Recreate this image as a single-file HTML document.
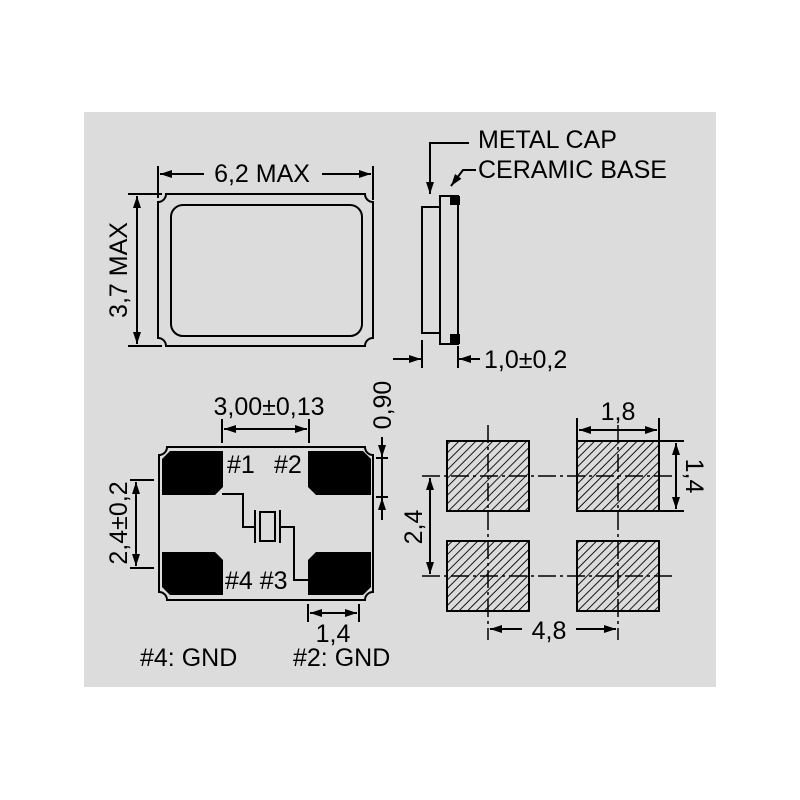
<!DOCTYPE html>
<html><head><meta charset="utf-8"><style>
html,body{margin:0;padding:0;background:#fff;}
svg{display:block;}
text{font-family:"Liberation Sans",sans-serif;font-size:25px;fill:#000;}
</style></head><body>
<svg width="800" height="800" viewBox="0 0 800 800" xmlns="http://www.w3.org/2000/svg">
<defs>
<marker id="a" viewBox="0 0 12 8" refX="12" refY="4" markerWidth="13" markerHeight="8" markerUnits="userSpaceOnUse" orient="auto-start-reverse">
<path d="M0,0 L12,4 L0,8 z" fill="#000"/></marker>
<pattern id="h" width="6" height="6" patternUnits="userSpaceOnUse" patternTransform="rotate(45)">
<rect width="6" height="6" fill="#dcdcdc"/><line x1="0" y1="0" x2="0" y2="6" stroke="#000" stroke-width="1.8"/></pattern>
</defs>
<rect x="84" y="112" width="632" height="575" fill="#dcdcdc"/>
<g stroke="#000" stroke-width="2" fill="none">
<!-- top package -->
<path d="M166,194 H365 A8,8 0 0 0 373,202 V338 A8,8 0 0 0 365,346 H166 A8,8 0 0 0 158,338 V202 A8,8 0 0 0 166,194 Z"/>
<rect x="171" y="205" width="191" height="131" rx="12"/>
<line x1="158" y1="166" x2="158" y2="198"/><line x1="373" y1="166" x2="373" y2="200"/>
<line x1="160" y1="174" x2="204" y2="174" marker-start="url(#a)"/>
<line x1="322" y1="174" x2="371" y2="174" marker-end="url(#a)"/>
<line x1="128" y1="194" x2="162" y2="194"/><line x1="128" y1="346" x2="162" y2="346"/>
<line x1="137" y1="196" x2="137" y2="344" marker-start="url(#a)" marker-end="url(#a)"/>
<!-- side view -->
<rect x="422" y="207" width="18" height="126"/>
<rect x="440" y="196" width="18" height="148"/>
<polyline points="469,143 430,143 430,194" marker-end="url(#a)"/>
<polyline points="476,170 463,170 451,186" marker-end="url(#a)"/>
<line x1="422" y1="340" x2="422" y2="368"/><line x1="458" y1="346" x2="458" y2="368"/>
<line x1="393" y1="359" x2="421" y2="359" marker-end="url(#a)"/>
<line x1="480" y1="359" x2="459" y2="359" marker-end="url(#a)"/>
<!-- bottom view -->
<path d="M167,447 H365 A8,8 0 0 0 373,455 V592 A8,8 0 0 0 365,600 H167 A8,8 0 0 0 159,592 V455 A8,8 0 0 0 167,447 Z"/>
<polyline points="222,494 243,494 243,527 254,527"/>
<line x1="255" y1="510" x2="255" y2="543"/><line x1="280" y1="510" x2="280" y2="543"/>
<rect x="260" y="512" width="15" height="29"/>
<polyline points="281,527 294,527 294,580 308,580"/>
<line x1="222" y1="419" x2="222" y2="443"/><line x1="309" y1="419" x2="309" y2="443"/>
<line x1="224" y1="429" x2="307" y2="429" marker-start="url(#a)" marker-end="url(#a)"/>
<line x1="376" y1="458" x2="388" y2="458"/><line x1="376" y1="497" x2="388" y2="497"/>
<line x1="382" y1="437" x2="382" y2="457" marker-end="url(#a)"/>
<line x1="382" y1="458" x2="382" y2="497"/>
<line x1="382" y1="520" x2="382" y2="498" marker-end="url(#a)"/>
<line x1="130" y1="480" x2="154" y2="480"/><line x1="130" y1="568" x2="154" y2="568"/>
<line x1="136" y1="482" x2="136" y2="566" marker-start="url(#a)" marker-end="url(#a)"/>
<line x1="308" y1="604" x2="308" y2="622"/><line x1="359" y1="604" x2="359" y2="622"/>
<line x1="310" y1="613" x2="357" y2="613" marker-start="url(#a)" marker-end="url(#a)"/>
</g>
<g fill="#000">
<path d="M170,451 H223 V487 L215,495 H162 V459 Z"/>
<path d="M308,451 H363 L371,459 V495 H316 L308,487 Z"/>
<path d="M162,552 H215 L223,560 V595 H170 L162,587 Z"/>
<path d="M316,552 H371 V587 L363,595 H308 V560 Z"/>
<rect x="450" y="196" width="10" height="9"/><rect x="450" y="334" width="10" height="10"/>
</g>
<!-- land pattern -->
<g stroke="#000" stroke-width="2">
<rect x="447" y="441" width="82" height="70" fill="url(#h)"/>
<rect x="577" y="441" width="82" height="70" fill="url(#h)"/>
<rect x="447" y="541" width="82" height="70" fill="url(#h)"/>
<rect x="577" y="541" width="82" height="70" fill="url(#h)"/>
</g>
<g stroke="#000" stroke-width="1.5" fill="none" stroke-dasharray="18,4,3,4">
<line x1="488" y1="425" x2="488" y2="640"/><line x1="618" y1="425" x2="618" y2="640"/>
<line x1="422" y1="476" x2="676" y2="476"/><line x1="422" y1="576" x2="676" y2="576"/>
</g>
<g stroke="#000" stroke-width="2" fill="none">
<line x1="577" y1="418" x2="577" y2="441"/><line x1="659" y1="418" x2="659" y2="441"/>
<line x1="579" y1="430" x2="657" y2="430" marker-start="url(#a)" marker-end="url(#a)"/>
<line x1="659" y1="441" x2="684" y2="441"/><line x1="659" y1="511" x2="684" y2="511"/>
<line x1="676" y1="443" x2="676" y2="509" marker-start="url(#a)" marker-end="url(#a)"/>
<line x1="430" y1="478" x2="430" y2="574" marker-start="url(#a)" marker-end="url(#a)"/>
<line x1="490" y1="629" x2="522" y2="629" marker-start="url(#a)"/>
<line x1="576" y1="629" x2="616" y2="629" marker-end="url(#a)"/>
</g>
<text x="262" y="182" text-anchor="middle">6,2 MAX</text>
<text transform="translate(127,270) rotate(-90)" text-anchor="middle">3,7 MAX</text>
<text x="478" y="148">METAL CAP</text>
<text x="478" y="178">CERAMIC BASE</text>
<text x="484" y="368">1,0±0,2</text>
<text x="269" y="415" text-anchor="middle">3,00±0,13</text>
<text transform="translate(391,405) rotate(-90)" text-anchor="middle">0,90</text>
<text transform="translate(127,523) rotate(-90)" text-anchor="middle">2,4±0,2</text>
<text x="227" y="473">#1</text><text x="274" y="473">#2</text>
<text x="225" y="589">#4 #3</text>
<text x="333" y="642" text-anchor="middle">1,4</text>
<text x="140" y="666">#4: GND</text>
<text x="293" y="666">#2: GND</text>
<text x="618" y="420" text-anchor="middle">1,8</text>
<text transform="translate(686,476) rotate(90)" text-anchor="middle">1,4</text>
<text transform="translate(422,527) rotate(-90)" text-anchor="middle">2,4</text>
<text x="549" y="639" text-anchor="middle">4,8</text>
</svg>
</body></html>
